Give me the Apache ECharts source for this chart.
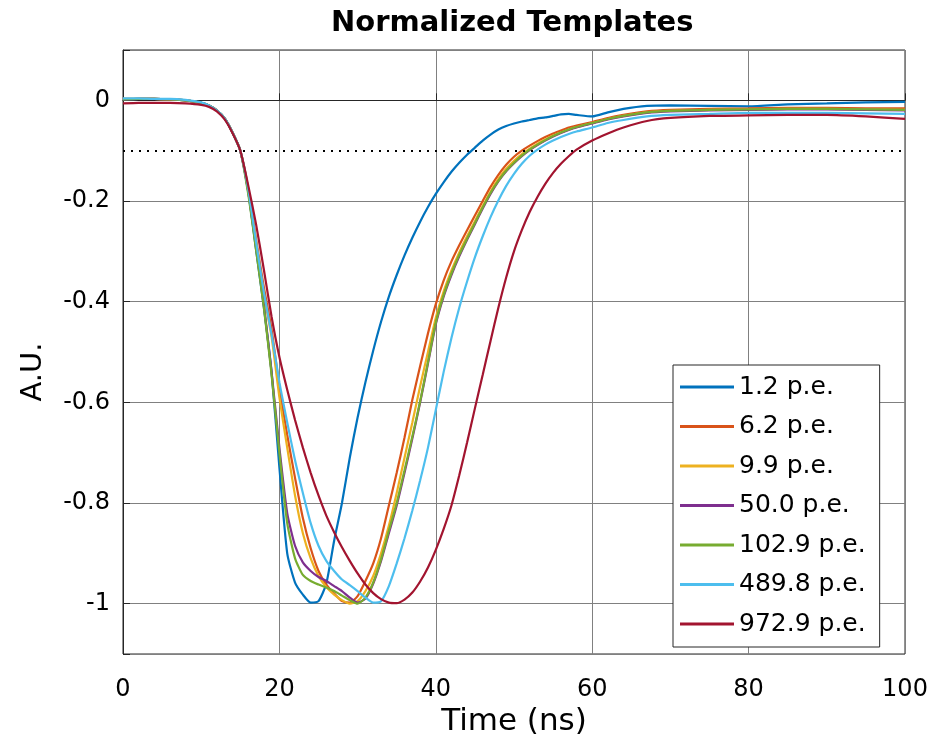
<!DOCTYPE html>
<html>
<head>
<meta charset="utf-8">
<script src="https://cdn.jsdelivr.net/npm/echarts@6/dist/echarts.min.js"></script>
<style>
  html, body { margin: 0; padding: 0; background: #fff; }
  #chart { width: 932px; height: 749px; }
</style>
</head>
<body>
<div id="chart"></div>
<script>
// time axis (ns), shared by all templates
const timeNs = [0, 2, 4, 6, 8, 10,
  11, 12, 13, 14, 15, 16, 17, 18, 19, 20, 21, 22, 23, 24, 25, 26, 27, 28, 29, 30,
  31, 32, 33, 34, 35, 36, 37, 38, 39, 40, 41, 42, 43, 44, 45, 46, 47, 48, 49, 50,
  51, 52, 53, 54, 55, 56, 57, 58,
  60, 62, 64, 67, 70, 75, 80, 85, 90, 95, 100]

const amp1p2 = [0.002, 0.003, 0.003, 0.002, 0.000, -0.005,
  -0.01, -0.02, -0.036, -0.064, -0.1, -0.18, -0.295, -0.41, -0.54, -0.73, -0.9, -0.958, -0.982, -0.998, -0.995, -0.96, -0.875, -0.8, -0.71, -0.63,
  -0.56, -0.497, -0.44, -0.39, -0.347, -0.308, -0.273, -0.241, -0.212, -0.186, -0.163, -0.142, -0.124, -0.108, -0.094, -0.08, -0.068, -0.058, -0.051, -0.046,
  -0.042, -0.039, -0.036, -0.034, -0.031, -0.028, -0.027, -0.029,
  -0.032, -0.024, -0.017, -0.011, -0.01, -0.011, -0.012, -0.008, -0.006, -0.004, -0.003]

const amp6p2 = [0.003, 0.003, 0.003, 0.002, 0.000, -0.005,
  -0.01, -0.02, -0.036, -0.064, -0.1, -0.175, -0.275, -0.37, -0.455, -0.57, -0.665, -0.75, -0.83, -0.89, -0.935, -0.962, -0.98, -0.995, -0.998, -0.985,
  -0.955, -0.92, -0.87, -0.805, -0.74, -0.67, -0.595, -0.528, -0.463, -0.405, -0.358, -0.32, -0.288, -0.258, -0.229, -0.2, -0.172, -0.148, -0.128, -0.112,
  -0.1, -0.09, -0.081, -0.073, -0.066, -0.06, -0.054, -0.05,
  -0.043, -0.035, -0.029, -0.022, -0.019, -0.017, -0.016, -0.015, -0.015, -0.016, -0.016]

const amp9p9 = [0.003, 0.003, 0.003, 0.002, 0.000, -0.005,
  -0.01, -0.02, -0.036, -0.064, -0.1, -0.175, -0.28, -0.385, -0.47, -0.59, -0.69, -0.785, -0.86, -0.91, -0.945, -0.967, -0.982, -0.993, -1.0, -0.995,
  -0.975, -0.945, -0.9, -0.845, -0.78, -0.71, -0.64, -0.568, -0.5, -0.432, -0.38, -0.338, -0.302, -0.27, -0.24, -0.21, -0.181, -0.156, -0.136, -0.12,
  -0.107, -0.096, -0.086, -0.078, -0.07, -0.064, -0.058, -0.053,
  -0.045, -0.037, -0.031, -0.024, -0.021, -0.019, -0.018, -0.017, -0.017, -0.018, -0.019]

const amp50p0 = [0.002, 0.003, 0.003, 0.002, 0.000, -0.005,
  -0.01, -0.02, -0.036, -0.064, -0.1, -0.18, -0.29, -0.405, -0.54, -0.69, -0.82, -0.885, -0.918, -0.935, -0.947, -0.955, -0.965, -0.975, -0.988, -0.998,
  -0.99, -0.96, -0.915, -0.86, -0.805, -0.74, -0.672, -0.6, -0.523, -0.445, -0.39, -0.347, -0.31, -0.277, -0.246, -0.215, -0.186, -0.161, -0.141, -0.125,
  -0.111, -0.099, -0.089, -0.08, -0.072, -0.065, -0.059, -0.054,
  -0.046, -0.038, -0.032, -0.025, -0.022, -0.02, -0.019, -0.018, -0.018, -0.019, -0.02]

const amp102p9 = [0.002, 0.003, 0.003, 0.002, 0.000, -0.005,
  -0.01, -0.02, -0.036, -0.064, -0.1, -0.185, -0.295, -0.41, -0.545, -0.7, -0.84, -0.91, -0.943, -0.955, -0.962, -0.968, -0.975, -0.984, -0.993, -1.0,
  -0.988, -0.958, -0.912, -0.855, -0.8, -0.735, -0.668, -0.598, -0.52, -0.442, -0.387, -0.344, -0.307, -0.275, -0.244, -0.213, -0.184, -0.16, -0.14, -0.124,
  -0.11, -0.098, -0.088, -0.079, -0.071, -0.064, -0.058, -0.053,
  -0.045, -0.037, -0.031, -0.024, -0.021, -0.019, -0.018, -0.017, -0.017, -0.018, -0.019]

const amp489p8 = [0.004, 0.004, 0.003, 0.003, 0.001, -0.004,
  -0.01, -0.02, -0.036, -0.064, -0.1, -0.175, -0.28, -0.38, -0.465, -0.56, -0.64, -0.715, -0.78, -0.84, -0.885, -0.915, -0.935, -0.952, -0.963, -0.975,
  -0.988, -0.998, -0.995, -0.965, -0.92, -0.87, -0.815, -0.755, -0.69, -0.615, -0.54, -0.472, -0.412, -0.36, -0.312, -0.27, -0.232, -0.199, -0.17, -0.146,
  -0.126, -0.11, -0.098, -0.088, -0.08, -0.073, -0.067, -0.062,
  -0.054, -0.045, -0.039, -0.032, -0.029, -0.027, -0.025, -0.025, -0.025, -0.026, -0.027]

const amp972p9 = [-0.006, -0.005, -0.005, -0.005, -0.006, -0.009,
  -0.013, -0.022, -0.038, -0.065, -0.1, -0.168, -0.245, -0.335, -0.43, -0.51, -0.575, -0.635, -0.69, -0.74, -0.785, -0.825, -0.858, -0.888, -0.915, -0.94,
  -0.962, -0.979, -0.991, -0.998, -0.999, -0.992, -0.978, -0.956, -0.928, -0.893, -0.852, -0.805, -0.745, -0.68, -0.612, -0.545, -0.478, -0.412, -0.352, -0.3,
  -0.258, -0.222, -0.192, -0.166, -0.144, -0.126, -0.111, -0.098,
  -0.08, -0.066, -0.054, -0.041, -0.035, -0.031, -0.03, -0.029, -0.029, -0.032, -0.037]

const seriesNames = ['1.2 p.e.', '6.2 p.e.', '9.9 p.e.', '50.0 p.e.', '102.9 p.e.', '489.8 p.e.', '972.9 p.e.']
const seriesAmps = [amp1p2, amp6p2, amp9p9, amp50p0, amp102p9, amp489p8, amp972p9]
const seriesColors = ['#0072BD', '#D95319', '#EDB120', '#7E2F8E', '#77AC30', '#4DBEEE', '#A2142F']
const thresholdLevel = -0.1

const font = 'DejaVu Sans'
const myChart = echarts.init(document.getElementById('chart'))

const series = seriesNames.map((name, i) => ({
  name,
  type: 'line',
  data: timeNs.map((t, k) => [t, seriesAmps[i][k]]),
  symbol: 'none',
  showSymbol: false,
  smooth: 0.2,
  lineStyle: { width: 2.2, color: seriesColors[i] },
  itemStyle: { color: seriesColors[i] },
  animation: false
}))

// dotted threshold line
series[0].markLine = {
  silent: true,
  symbol: ['none', 'none'],
  label: { show: false },
  lineStyle: { type: [2, 6], color: '#000', width: 2 },
  data: [{ yAxis: thresholdLevel }],
  animation: false
}

const option = {
  backgroundColor: '#fff',
  title: {
    text: 'Normalized Templates',
    left: 326,
    top: 4,
    textStyle: { fontFamily: font, fontSize: 29, fontWeight: 'bold', color: '#000' }
  },
  grid: {
    left: 123,
    right: 27,
    top: 50,
    bottom: 95,
    show: true,
    borderColor: '#262626',
    borderWidth: 1
  },
  legend: {
    orient: 'vertical',
    left: 673,
    top: 365,
    padding: [8, 14, 9, 7],
    backgroundColor: '#fff',
    borderColor: '#262626',
    borderWidth: 1,
    icon: 'rect',
    itemWidth: 54,
    itemHeight: 3,
    itemGap: 11.5,
    textStyle: { fontFamily: font, fontSize: 25, lineHeight: 28, color: '#000' },
    data: seriesNames
  },
  xAxis: {
    type: 'value',
    min: 0,
    max: 100,
    interval: 20,
    name: 'Time (ns)',
    nameLocation: 'middle',
    nameGap: 52,
    nameTextStyle: { fontFamily: font, fontSize: 31, color: '#000' },
    axisLine: { lineStyle: { color: '#262626' } },
    axisTick: { inside: true, length: 7, lineStyle: { color: '#262626' } },
    axisLabel: { fontFamily: font, fontSize: 24, color: '#000', margin: 24 },
    splitLine: { lineStyle: { color: '#808080', width: 1 } }
  },
  yAxis: {
    type: 'value',
    min: -1.1,
    max: 0.1,
    splitNumber: 6,
    name: 'A.U.',
    nameLocation: 'middle',
    nameGap: 75,
    nameTextStyle: { fontFamily: font, fontSize: 29, color: '#000', padding: [0, 40, 0, 0] },
    axisLine: { show: true, lineStyle: { color: '#262626' } },
    axisTick: { inside: true, length: 7, lineStyle: { color: '#262626' } },
    axisLabel: {
      fontFamily: font,
      fontSize: 24,
      color: '#000',
      margin: 13,
      formatter: (value) => {
        if (Math.abs(value + 1.1) < 1e-6 || Math.abs(value - 0.1) < 1e-6) return ''
        return String(Number(value.toFixed(1)))
      }
    },
    splitLine: { lineStyle: { color: '#808080', width: 1 } }
  },
  series
}

myChart.setOption(option)
</script>
</body>
</html>
